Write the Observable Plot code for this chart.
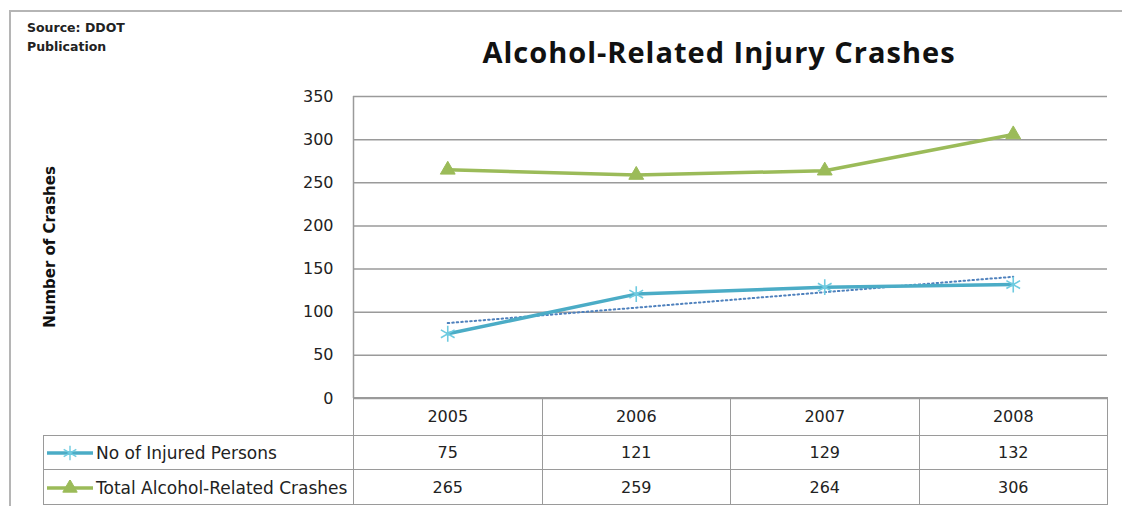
<!DOCTYPE html>
<html>
<head>
<meta charset="utf-8">
<script src="https://cdn.jsdelivr.net/npm/d3@7"></script>
<script src="https://cdn.jsdelivr.net/npm/@observablehq/plot@0.6"></script>
<style>
  html, body { margin: 0; padding: 0; background: #fff; }
  #wrap { position: relative; width: 1122px; height: 506px; overflow: hidden; font-family: "DejaVu Sans", sans-serif; color: #222; }
  #border { position: absolute; left: 9px; top: 10px; width: 1130px; height: 520px; border: 2px solid #b5b5b5; box-sizing: border-box; }
  .src { position: absolute; left: 27px; font: bold 12.5px "DejaVu Sans", sans-serif; color: #222; }
  #title { position: absolute; left: 369px; width: 700px; top: 32px; text-align: center; font: 700 29px "Open Sans", sans-serif; letter-spacing: 1px; color: #111; }
  #ylab { position: absolute; left: 50px; top: 247px; transform: translate(-50%, -50%) rotate(-90deg); white-space: nowrap; font: bold 15px "DejaVu Sans", sans-serif; color: #111; }
  #plot { position: absolute; left: 0; top: 0; }
  #tbl { position: absolute; left: 43px; top: 397px; width: 1064px; table-layout: fixed; border-collapse: collapse; font: 16px "DejaVu Sans", sans-serif; color: #222; }
  #tbl td { border: 1.5px solid #9a9a9a; text-align: center; padding: 0; overflow: hidden; }
  #tbl td.lab { text-align: left; white-space: nowrap; font-size: 17px; }
  #tbl td.blank { border-top: none; border-left: none; }
  #tbl svg { vertical-align: middle; margin-left: 3px; margin-right: 1px; }
</style>
</head>
<body>
<div id="wrap">
  <div id="border"></div>
  <div class="src" style="top:20px">Source: DDOT</div>
  <div class="src" style="top:39px">Publication</div>
  <div id="title">Alcohol-Related Injury Crashes</div>
  <div id="ylab">Number of Crashes</div>
  <div id="plot"></div>
  <table id="tbl"></table>
</div>
<script>
// ---- data ----
const years = [2005, 2006, 2007, 2008];
const injured = [75, 121, 129, 132];
const totalCrashes = [265, 259, 264, 306];
const seriesNames = ["No of Injured Persons", "Total Alcohol-Related Crashes"];
const yTicks = [0, 50, 100, 150, 200, 250, 300, 350];

const blue = "#4BACC6";
const blueMarker = "#6fcbe0";
const green = "#9BBB59";
const trendColor = "#4F81BD";

const rows = years.map((y, i) => ({year: y, injured: injured[i], total: totalCrashes[i]}));
const xDomain = [d3.min(years) - 0.5, d3.max(years) + 0.5];

const chart = Plot.plot({
  width: 1122,
  height: 400,
  marginTop: 96,
  marginBottom: 2,
  marginLeft: 353,
  marginRight: 15,
  style: {fontFamily: "DejaVu Sans, sans-serif", fontSize: "16px", color: "#222", background: "transparent", overflow: "visible"},
  x: {domain: xDomain, axis: null},
  y: {domain: [0, 350], ticks: yTicks, tickSize: 0, tickPadding: 20, label: null, tickFormat: d3.format("d")},
  marks: [
    Plot.ruleY(yTicks, {stroke: "#9a9a9a", strokeWidth: 1.5}),
    Plot.ruleX([xDomain[0]], {stroke: "#9a9a9a", strokeWidth: 1.5}),
    Plot.linearRegressionY(rows, {x: "year", y: "injured", ci: 0, stroke: trendColor, strokeWidth: 2, strokeDasharray: "1.5,3"}),
    Plot.line(rows, {x: "year", y: "total", stroke: green, strokeWidth: 3.5}),
    Plot.line(rows, {x: "year", y: "injured", stroke: blue, strokeWidth: 3.5}),
    Plot.dot(rows, {x: "year", y: "total", symbol: "triangle", r: 5.5, fill: green, stroke: green, strokeWidth: 1}),
    Plot.dot(rows, {x: "year", y: "injured", symbol: "asterisk", r: 7.5, stroke: blueMarker, strokeWidth: 1.6})
  ]
});
document.getElementById("plot").appendChild(chart);

// ---- data table with legend keys ----
function keyIcon(color, markerColor, symbol, size, filled) {
  const svg = d3.create("svg").attr("width", 48).attr("height", 16);
  svg.append("line").attr("x1", 0).attr("x2", 46).attr("y1", 8).attr("y2", 8)
    .attr("stroke", color).attr("stroke-width", 3.5);
  svg.append("path").attr("transform", "translate(23,8)")
    .attr("d", d3.symbol(symbol, size)())
    .attr("fill", filled ? markerColor : "none")
    .attr("stroke", markerColor).attr("stroke-width", filled ? 1 : 1.4);
  return svg.node();
}

const tbl = d3.select("#tbl");
const cg = tbl.append("colgroup");
cg.append("col").style("width", "310px");
years.forEach(() => cg.append("col").style("width", "188.5px"));
const head = tbl.append("tr").style("height", "38px");
head.append("td").attr("class", "blank");
years.forEach(y => head.append("td").text(y));

const seriesVals = [injured, totalCrashes];
const icons = [
  () => keyIcon(blue, blueMarker, d3.symbolAsterisk, 150, false),
  () => keyIcon(green, green, d3.symbolTriangle, 90, true)
];
const rowH = ["34px", "35px"];
seriesNames.forEach((name, si) => {
  const tr = tbl.append("tr").style("height", rowH[si]);
  const td = tr.append("td").attr("class", "lab");
  td.node().appendChild(icons[si]());
  td.append("span").style("vertical-align", "middle").text(name);
  seriesVals[si].forEach(v => tr.append("td").text(v));
});
</script>
</body>
</html>
